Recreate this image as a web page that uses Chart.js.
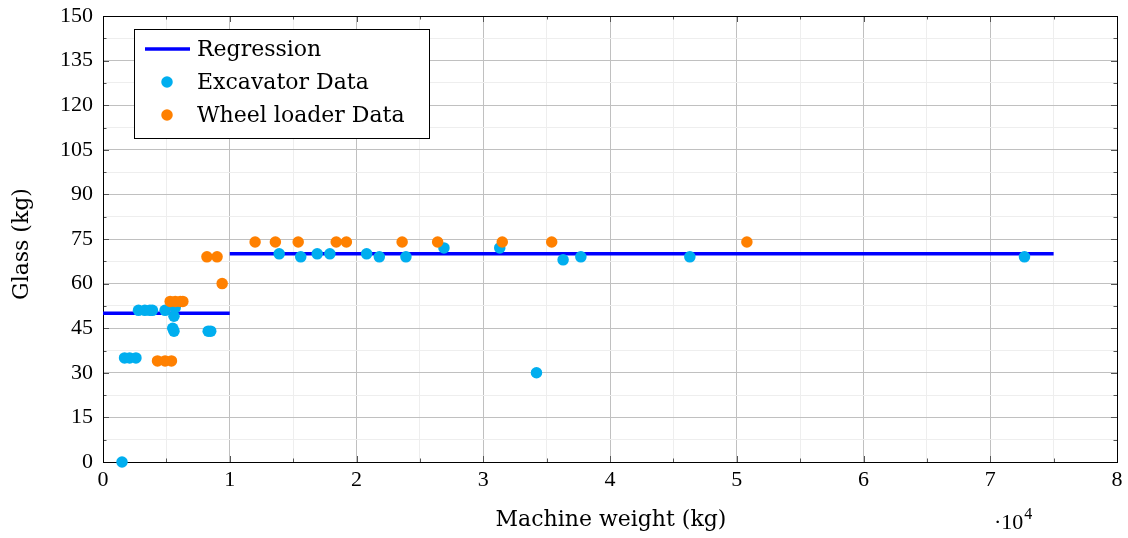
<!DOCTYPE html>
<html><head><meta charset="utf-8">
<script src="https://cdn.jsdelivr.net/npm/chart.js@4/dist/chart.umd.min.js"></script>
<style>html,body{margin:0;padding:0;background:#fff}#wrap{width:1128px;height:538px;position:relative}</style>
</head><body><div id="wrap"><canvas id="c"></canvas></div>
<script>
const FONT = "'Liberation Serif', 'DejaVu Serif', serif";
const TFONT = "'DejaVu Serif', serif";
const xTickLabels = [0, 1, 2, 3, 4, 5, 6, 7, 8];
const yTickLabels = [0, 15, 30, 45, 60, 75, 90, 105, 120, 135, 150];

const excavatorX = [0.15, 0.17, 0.21, 0.26, 0.28, 0.33, 0.37, 0.39, 0.49, 0.57, 0.56, 0.55, 0.56, 0.83, 0.85,
  1.39, 1.56, 1.69, 1.79, 2.08, 2.18, 2.39, 2.69, 3.13, 3.42, 3.63, 3.77, 4.63, 7.27];
const excavatorY = [0, 35, 35, 35, 51, 51, 51, 51, 51, 52, 49, 45, 44, 44, 44,
  70, 69, 70, 70, 70, 69, 69, 72, 72, 30, 68, 69, 69, 69];

const loaderX = [0.43, 0.49, 0.54, 0.53, 0.57, 0.61, 0.63, 0.82, 0.90, 0.94,
  1.20, 1.36, 1.54, 1.84, 1.92, 2.36, 2.64, 3.15, 3.54, 5.08];
const loaderY = [34, 34, 34, 54, 54, 54, 54, 69, 69, 60,
  74, 74, 74, 74, 74, 74, 74, 74, 74, 74];

const regressionX = [0, 1, 1, 1, 7.5];
const regressionY = [50, 50, null, 70, 70];

const BLUE_DOT = '#00AEEF';
const ORANGE_DOT = '#FF8000';
const REG = '#0000FF';

const toPts = (xs, ys) => xs.map((x, i) => ({x: x, y: ys[i]}));

const decor = {
  id: 'decor',
  beforeDatasetsDraw(chart) {
    const {ctx, chartArea: a, scales: {x, y}} = chart;
    ctx.save();
    ctx.strokeStyle = '#555';
    ctx.lineWidth = 1;
    ctx.beginPath();
    x.ticks.forEach(t => {
      const px = Math.round(x.getPixelForValue(t.value)) + 0.5;
      const major = xTickLabels.includes(t.value);
      const len = major ? 6 : 3.5;
      ctx.moveTo(px, a.bottom); ctx.lineTo(px, a.bottom - len);
      ctx.moveTo(px, a.top); ctx.lineTo(px, a.top + len);
    });
    y.ticks.forEach(t => {
      const py = Math.round(y.getPixelForValue(t.value)) + 0.5;
      const major = yTickLabels.includes(t.value);
      const len = major ? 6 : 3.5;
      ctx.moveTo(a.left, py); ctx.lineTo(a.left + len, py);
      ctx.moveTo(a.right, py); ctx.lineTo(a.right - len, py);
    });
    ctx.stroke();
    ctx.strokeStyle = '#000';
    ctx.strokeRect(Math.round(a.left) + 0.5, Math.round(a.top) + 0.5, Math.round(a.right - a.left), Math.round(a.bottom - a.top));
    ctx.restore();
  },
  afterDraw(chart) {
    const {ctx, chartArea: a} = chart;
    ctx.save();
    // legend
    const lx = 134.5, ly = 29.5, lw = 295, lh = 109;
    ctx.fillStyle = '#fff';
    ctx.fillRect(lx, ly, lw, lh);
    ctx.strokeStyle = '#000';
    ctx.lineWidth = 1;
    ctx.strokeRect(lx, ly, lw, lh);
    const rows = [49, 82, 115];
    const ds = chart.data.datasets;
    const order = [2, 1, 0];
    ctx.font = '22px ' + TFONT;
    ctx.textBaseline = 'middle';
    ctx.textAlign = 'left';
    order.forEach((di, r) => {
      const d = ds[di];
      const cy = rows[r];
      if (d.showLine) {
        ctx.strokeStyle = d.borderColor;
        ctx.lineWidth = d.borderWidth;
        ctx.beginPath(); ctx.moveTo(145, cy); ctx.lineTo(190, cy); ctx.stroke();
      } else {
        ctx.fillStyle = d.backgroundColor;
        ctx.beginPath(); ctx.arc(167, cy, 5.75, 0, Math.PI * 2); ctx.fill();
      }
      ctx.fillStyle = '#000';
      ctx.fillText(d.label, 197, cy + 1);
    });
    // axis titles
    ctx.fillStyle = '#000';
    ctx.textAlign = 'center';
    ctx.fillText('Machine weight (kg)', (a.left + a.right) / 2 + 1, 520);
    ctx.save();
    ctx.translate(22, 244);
    ctx.rotate(-Math.PI / 2);
    ctx.fillText('Glass (kg)', 0, 0);
    ctx.restore();
    // multiplier
    ctx.textAlign = 'left';
    ctx.font = '22px ' + FONT;
    const base = '\u00b710';
    ctx.fillText(base, 994, 523);
    const w = ctx.measureText(base).width;
    ctx.font = '16px ' + FONT;
    ctx.fillText('4', 994 + w + 1, 515);
    ctx.restore();
  }
};

new Chart(document.getElementById('c'), {
  type: 'scatter',
  data: {
    datasets: [
      { label: 'Wheel loader Data', data: toPts(loaderX, loaderY), backgroundColor: ORANGE_DOT, borderColor: ORANGE_DOT,
        pointRadius: 5.75, pointBorderWidth: 0, showLine: false, clip: false },
      { label: 'Excavator Data', data: toPts(excavatorX, excavatorY), backgroundColor: BLUE_DOT, borderColor: BLUE_DOT,
        pointRadius: 5.75, pointBorderWidth: 0, showLine: false, clip: false },
      { label: 'Regression', data: toPts(regressionX, regressionY), borderColor: REG, backgroundColor: REG,
        borderWidth: 3.5, pointRadius: 0, showLine: true, spanGaps: false, tension: 0 }
    ]
  },
  options: {
    responsive: true,
    maintainAspectRatio: false,
    animation: false,
    devicePixelRatio: 1,
    layout: { padding: { top: 16, right: 11, left: 0, bottom: 0 } },
    plugins: { legend: { display: false }, tooltip: { enabled: false } },
    scales: {
      x: {
        type: 'linear', min: 0, max: 8,
        afterFit(s) { s.height = 76; s.paddingLeft = 0; s.paddingRight = 0; },
        ticks: { stepSize: 0.5, autoSkip: false, maxRotation: 0, padding: 5, color: '#000',
          font: { family: FONT, size: 22 },
          callback: v => xTickLabels.includes(v) ? String(v) : '' },
        grid: { drawTicks: false, color: c => (c.tick && xTickLabels.includes(c.tick.value)) ? '#c0c0c0' : '#eeeeee', lineWidth: 1 },
        border: { display: false }
      },
      y: {
        type: 'linear', min: 0, max: 150,
        afterFit(s) { s.width = 103; s.paddingTop = 0; s.paddingBottom = 0; },
        ticks: { stepSize: 7.5, autoSkip: false, padding: 10, color: '#000',
          font: { family: FONT, size: 22 },
          callback: v => yTickLabels.includes(v) ? String(v) : '' },
        grid: { drawTicks: false, color: c => (c.tick && yTickLabels.includes(c.tick.value)) ? '#c0c0c0' : '#eeeeee', lineWidth: 1 },
        border: { display: false }
      }
    }
  },
  plugins: [decor]
});
</script>
</body></html>
